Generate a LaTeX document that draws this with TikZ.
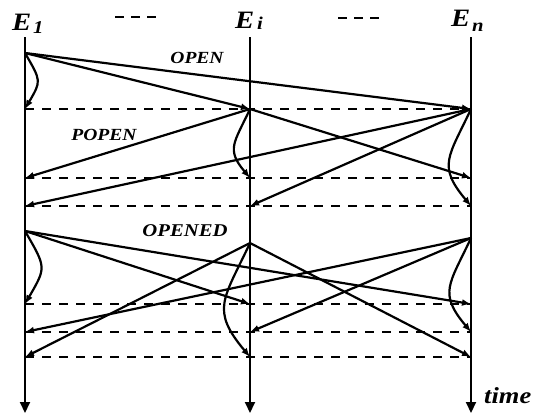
\documentclass[tikz,border=0pt]{standalone}
\usepackage{fontspec}
\setmainfont{Liberation Serif}
\usetikzlibrary{arrows.meta}
\begin{document}
\begin{tikzpicture}[x=1pt,y=-1pt,
  axis/.style={line width=2pt,-{Triangle[length=11pt,width=10pt]}},
  msg/.style={line width=2.2pt,-{Latex[length=9pt,width=7pt]}},
  loopr/.style={msg,out=-60,in=60,looseness=1.5},
  loopl/.style={msg,out=-115,in=130,looseness=1.4},
  sync/.style={line width=2.2pt,dash pattern=on 9pt off 8pt},
  dots/.style={line width=2.4pt,dash pattern=on 9pt off 7pt},
  lbl/.style={font=\fontsize{17}{17}\selectfont\bfseries\itshape,inner sep=0pt,xscale=1.15},
  head/.style={font=\fontsize{25}{25}\selectfont\bfseries\itshape,inner sep=0pt,xscale=1.15,anchor=base west},
  sub/.style={font=\fontsize{18}{18}\selectfont\bfseries\itshape,inner sep=0pt,xscale=1.15,anchor=base west},
]
\useasboundingbox (0,0) rectangle (554,415);
% headers
\node[head] (h1) at (12,30) {E};
\node[sub] (h1s) at (h1.base east) [yshift=-3pt,xshift=1pt] {1};
\node[head] (h2) at (235,28) {E};
\node[sub] (h2s) at (h2.base east) [yshift=-1pt,xshift=2pt] {i};
\node[head] (h3) at (451,27) {E};
\node[sub] (h3s) at (h3.base east) [yshift=-4pt,xshift=1pt] {n};
\coordinate (d1a) at (115,17); \coordinate (d1b) at (157,17);
\coordinate (d2a) at (338,18); \coordinate (d2b) at (380,18);
\draw[dots] (d1a) -- (d1b);
\draw[dots] (d2a) -- (d2b);
% axes
\coordinate (t1) at (25,37); \coordinate (b1) at (25,413);
\coordinate (t2) at (250,37); \coordinate (b2) at (250,413);
\coordinate (t3) at (471,37); \coordinate (b3) at (471,413);
\draw[axis] (t1) -- (b1);
\draw[axis] (t2) -- (b2);
\draw[axis] (t3) -- (b3);
\node[lbl,font=\fontsize{23}{23}\selectfont\bfseries\itshape,anchor=base west] (time) at (484,403) {time};
% events
\coordinate (s1) at (25,53);
\foreach \r/\y in {1/109,2/178,3/206,4/304,5/332,6/357}{
  \coordinate (r\r a) at (25,\y);
  \coordinate (r\r b) at (250,\y);
  \coordinate (r\r c) at (471,\y);
}
\coordinate (s2a) at (25,231);
\coordinate (s2b) at (250,243);
\coordinate (s2c) at (471,238);
% sync lines
\foreach \r in {1,...,6}{ \draw[sync] (r\r a) -- (r\r c); }
% phase 1: OPEN
\draw[msg] (s1) -- (r1b);
\draw[msg] (s1) -- (r1c);
\draw[loopr] (s1) to (r1a);
% POPEN
\draw[msg] (r1b) -- (r2a);
\draw[msg] (r1b) -- (r2c);
\draw[loopl] (r1b) to (r2b);
\draw[msg] (r1c) -- (r3a);
\draw[msg] (r1c) -- (r3b);
\draw[loopl] (r1c) to (r3c);
% OPENED
\draw[msg] (s2a) -- (r4b);
\draw[msg] (s2a) -- (r4c);
\draw[loopr] (s2a) to (r4a);
\draw[msg] (s2c) -- (r5a);
\draw[msg] (s2c) -- (r5b);
\draw[loopl] (s2c) to (r5c);
\draw[msg] (s2b) -- (r6a);
\draw[msg] (s2b) -- (r6c);
\draw[loopl] (s2b) to (r6b);
% labels
\node[lbl] (open) at (197,58) {OPEN};
\node[lbl] (popen) at (104,135) {POPEN};
\node[lbl,font=\fontsize{18}{18}\selectfont\bfseries\itshape] (opened) at (185,231) {OPENED};
\end{tikzpicture}
\end{document}
